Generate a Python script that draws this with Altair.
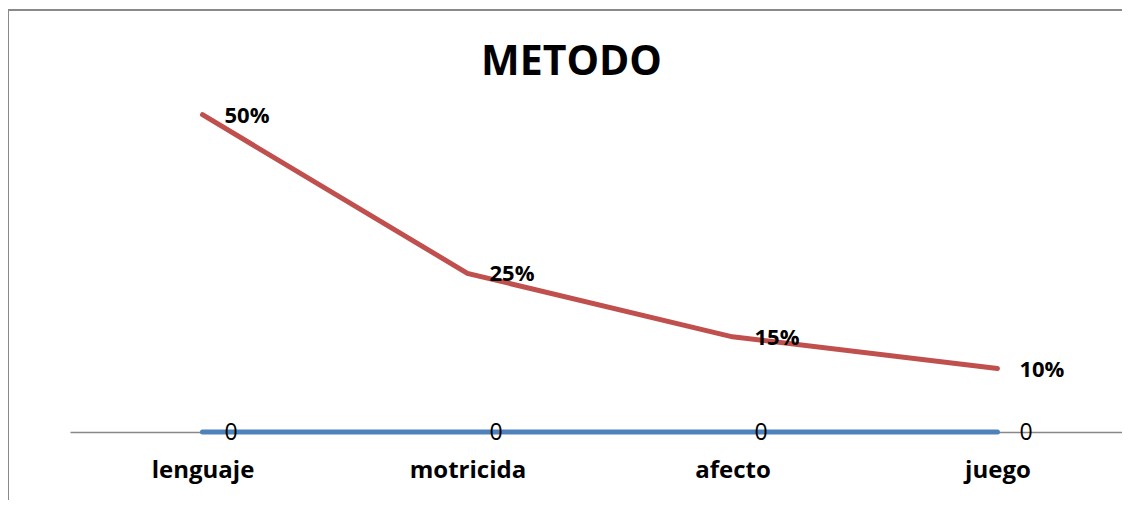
import altair as alt
import pandas as pd

categorias = ["lenguaje", "motricida", "afecto", "juego"]
metodo = [0.50, 0.25, 0.15, 0.10]
serie_cero = [0, 0, 0, 0]
titulo = "METODO"

df = pd.DataFrame({
    "idx": list(range(len(categorias))),
    "categoria": categorias,
    "metodo": metodo,
    "cero": serie_cero,
})

label_expr = "[" + ",".join(f"'{c}'" for c in categorias) + "][datum.value]"

x_enc = alt.X(
    "idx:Q",
    title="",
    scale=alt.Scale(domain=[-0.5, 3.47], nice=False, zero=False),
    axis=alt.Axis(
        values=list(range(len(categorias))), labelExpr=label_expr, ticks=False, grid=False,
        domainColor="#888888", domainWidth=1.5, labelFont="Open Sans", labelFontSize=24,
        labelFontWeight="bold", labelColor="black", labelPadding=26, labelFlush=False,
        labelOverlap=False, zindex=0,
    ),
)
yscale = alt.Scale(domain=[0, 0.55], nice=False, zero=True)

base = alt.Chart(df)
one = pd.DataFrame({"a": [0]})

frame_left = alt.Chart(one).mark_rule(color="#898989", strokeWidth=2).encode(
    x=alt.value(-62), y=alt.value(-74), y2=alt.value(430)
)
frame_top = alt.Chart(one).mark_rule(color="#898989", strokeWidth=2).encode(
    x=alt.value(-62), x2=alt.value(1070), y=alt.value(-73)
)

blue = base.mark_line(color="#4F81BD", strokeWidth=5, strokeCap="round").encode(
    x=x_enc, y=alt.Y("cero:Q", scale=yscale, axis=None)
)
red = base.mark_line(color="#C0504D", strokeWidth=5, strokeCap="round").encode(
    x=x_enc, y=alt.Y("metodo:Q", scale=yscale, axis=None)
)
red_labels = base.mark_text(
    align="left", baseline="middle", dx=22, dy=1, font="Open Sans", fontSize=22,
    fontWeight="bold", color="black"
).encode(
    x=x_enc, y=alt.Y("metodo:Q", scale=yscale, axis=None), text=alt.Text("metodo:Q", format=".0%")
)
zero_labels = base.mark_text(
    align="left", baseline="middle", dx=22, dy=1, font="Open Sans", fontSize=23, color="black"
).encode(
    x=x_enc, y=alt.Y("cero:Q", scale=yscale, axis=None), text=alt.Text("cero:Q")
)
title = alt.Chart(pd.DataFrame({"t": [titulo]})).mark_text(
    font="Open Sans", fontSize=41, fontWeight="bold", align="center",
    baseline="alphabetic", color="black"
).encode(x=alt.value(501.5), y=alt.value(-8), text="t:N")

chart = alt.layer(frame_left, frame_top, blue, red, zero_labels, red_labels, title).properties(
    width=1052, height=349,
    autosize=alt.AutoSizeParams(type="none"),
    padding={"left": 62, "top": 75, "right": 0, "bottom": 68},
    background="white",
).configure_view(strokeWidth=0)

chart.save("out.html", embed_options={"renderer": "svg", "actions": False})
